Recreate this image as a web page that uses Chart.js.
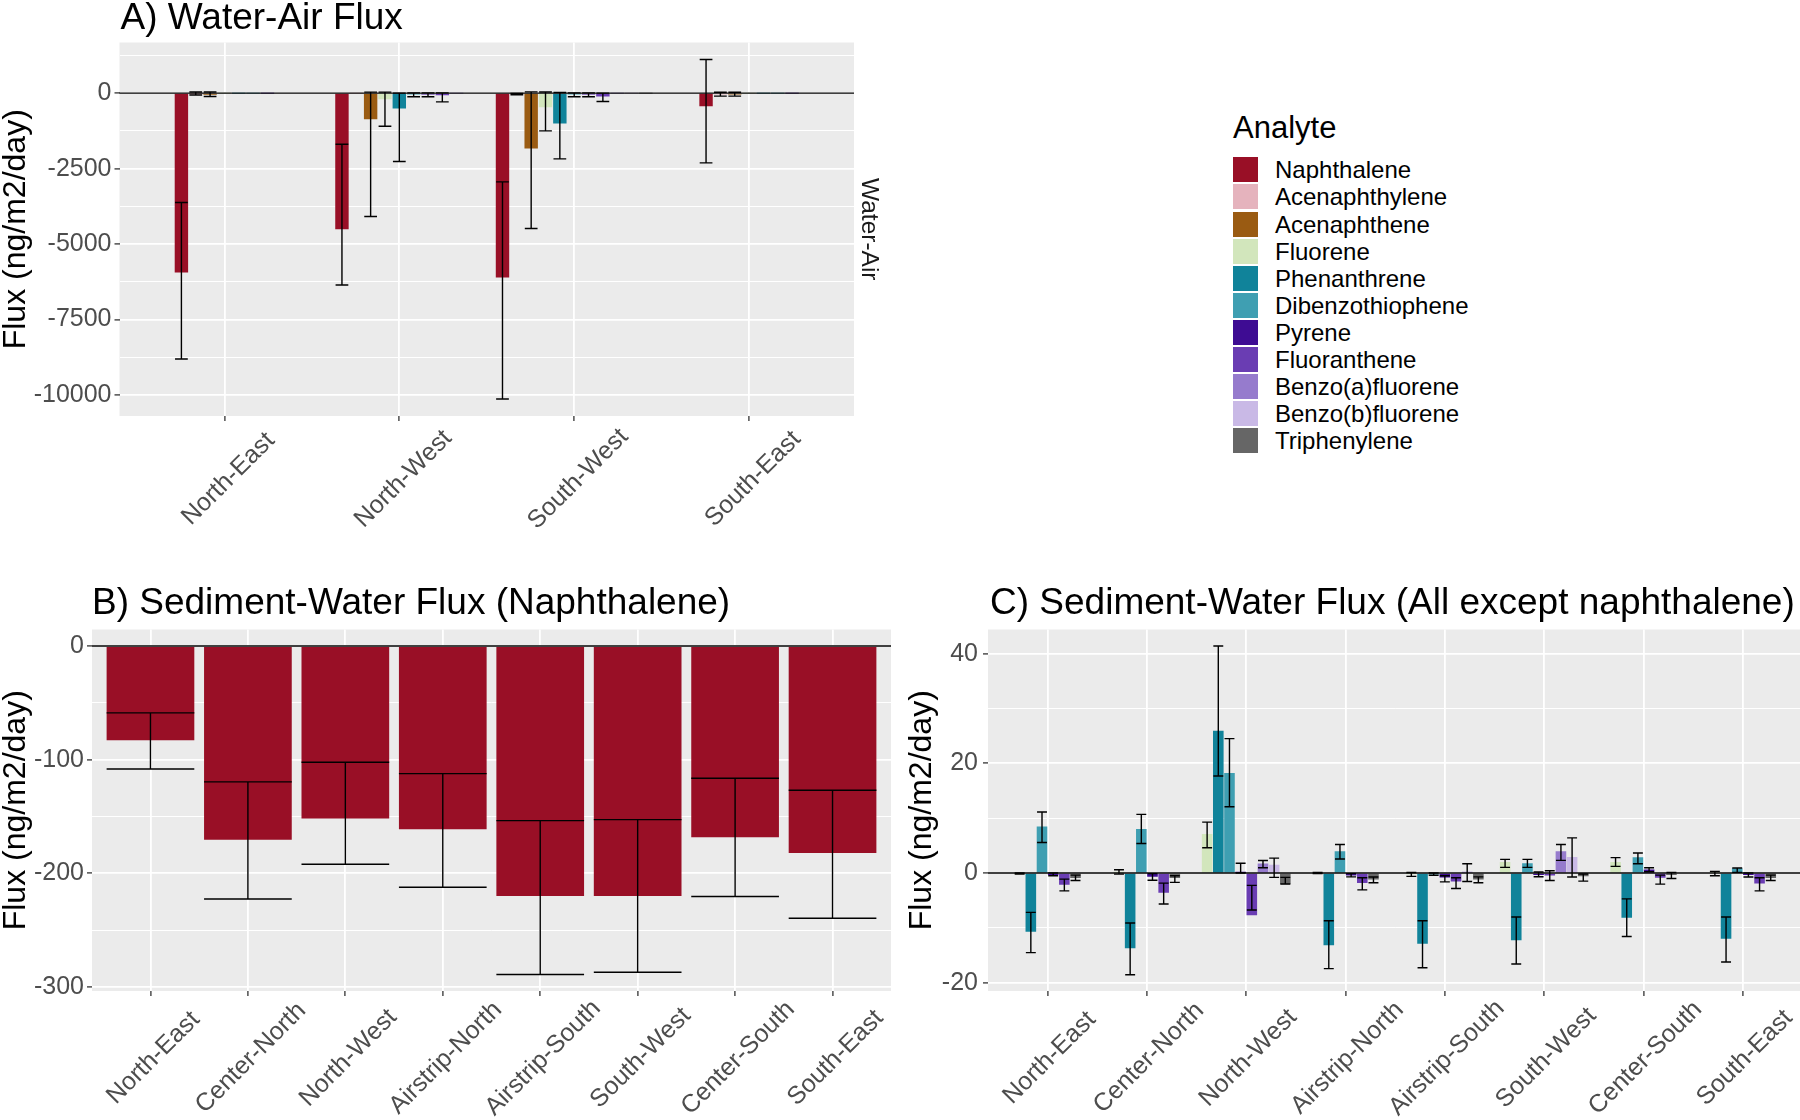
<!DOCTYPE html>
<html>
<head>
<meta charset="utf-8">
<script src="https://cdn.jsdelivr.net/npm/chart.js@4.4.0/dist/chart.umd.min.js"></script>
<style>
  body { margin: 0; width: 1800px; height: 1120px; overflow: hidden; background: #fff; position: relative;
         font-family: 'Liberation Sans', Arial, sans-serif; }
  canvas { position: absolute; }
  #chartA { left: 0; top: 0; }
  #chartB { left: 0; top: 560px; }
  #chartC { left: 900px; top: 560px; }
  #legend { position: absolute; left: 0; top: 0; }
  .lg-title { position: absolute; left: 1233px; top: 112px; font-size: 31px; line-height: 31px; color: #000; white-space: nowrap; }
  .lg-key { position: absolute; left: 1233px; width: 25px; height: 25px; }
  .lg-lab { position: absolute; left: 1275px; font-size: 24px; line-height: 25px; height: 25px; color: #000; white-space: nowrap; }
</style>
</head>
<body>
<canvas id="chartA" width="900" height="540"></canvas>
<canvas id="chartB" width="900" height="560"></canvas>
<canvas id="chartC" width="910" height="560"></canvas>
<div id="legend"></div>
<script>
// analytes and their fill colours (legend order)
const analytes = ['Naphthalene', 'Acenaphthylene', 'Acenaphthene', 'Fluorene', 'Phenanthrene',
  'Dibenzothiophene', 'Pyrene', 'Fluoranthene', 'Benzo(a)fluorene', 'Benzo(b)fluorene', 'Triphenylene'];
const analyteColors = ['#990F26', '#E5B3BD', '#9A5B12', '#D2E6BC', '#10839A',
  '#3F9FB2', '#3E0C93', '#6A3DB3', '#967BCD', '#C9B9E6', '#666666'];

// A) water-air flux, rows = analytes, cols = sites (null = not measured there)
const waSites = ['North-East', 'North-West', 'South-West', 'South-East'];
const waTicks = [-10000, -7500, -5000, -2500, 0];
const waFlux = [
  [-5934, -4497, -6099, -420],
  [-10, 0, -30, -30],
  [-40, -851, -1823, -30],
  [0, -188, -453, 0],
  [0, -497, -994, 0],
  [0, -30, -30, 0],
  [0, -30, -30, 0],
  [null, -60, -100, null],
  [null, 0, 0, null],
  [null, null, 0, null],
  [null, null, 0, null]
];
const waLow = [
  [-8807, -6354, -10133, -2309],
  [-60, null, -55, -100],
  [-110, -4088, -4486, -100],
  [null, -1094, -1249, null],
  [null, -2265, -2177, null],
  [null, -120, -120, null],
  [null, -120, -120, null],
  [null, -290, -275, null],
  [null, null, null, null],
  [null, null, null, null],
  [null, null, null, null]
];
const waHigh = [
  [-3624, -1691, -2939, 1116],
  [40, null, -10, 30],
  [40, 33, 44, 30],
  [null, 33, 40, null],
  [null, 0, 20, null],
  [null, 10, 10, null],
  [null, 10, 10, null],
  [null, 10, 0, null],
  [null, null, null, null],
  [null, null, null, null],
  [null, null, null, null]
];

// B) sediment-water flux of naphthalene
const sedSites = ['North-East', 'Center-North', 'North-West', 'Airstrip-North',
  'Airstrip-South', 'South-West', 'Center-South', 'South-East'];
const sedNaphTicks = [-300, -200, -100, 0];
const sedNaph = [-83, -170.4, -151.9, -161.3, -219.9, -219.9, -168.3, -182.1];
const sedNaphLow = [-108.2, -222.6, -192.1, -212.3, -289.1, -287.1, -220.5, -239.6];
const sedNaphHigh = [-58.9, -119.6, -102.3, -112.3, -153.7, -152.8, -116.4, -127];

// C) sediment-water flux of the other analytes (rows = analytes without naphthalene)
const sedTicks = [-20, 0, 20, 40];
const sedFlux = [
  [null, null, null, null, null, null, null, null],
  [null, null, null, null, null, null, null, null],
  [-0.1, 0.1, 7.04, 0, -0.1, 1.96, 1.96, 0.1],
  [-10.64, -13.64, 25.9, -13.09, -12.84, -12.17, -8.07, -11.93],
  [8.44, 7.95, 18.2, 3.91, -0.2, 1.71, 2.81, 0.8],
  [-0.3, -0.61, 0.05, -0.4, -0.73, -0.3, 0.61, -0.3],
  [-2.08, -3.55, -7.65, -1.77, -1.47, -0.37, -0.8, -1.83],
  [null, null, 1.7, null, 0.2, 3.91, null, null],
  [null, null, 1.46, null, null, 2.87, null, null],
  [-0.86, -0.86, -2.0, -1.1, -1.1, -0.5, -0.3, -0.86]
];
const sedLow = [
  [null, null, null, null, null, null, null, null],
  [null, null, null, null, null, null, null, null],
  [-0.2, -0.2, 4.61, -0.1, -0.6, 1.04, 1.22, -0.5],
  [-14.5, -18.53, 17.7, -17.43, -17.25, -16.57, -11.56, -16.2],
  [5.57, 5.38, 12.1, 2.57, -0.4, 1.04, 1.71, 0.12],
  [-0.5, -1.3, 0, -0.7, -1.6, -0.67, 0.24, -0.73],
  [-3.24, -5.63, -6.74, -3.06, -2.81, -1.35, -2.02, -3.24],
  [null, null, 0.97, null, -1.53, 2.32, null, null],
  [null, null, -0.79, null, null, -0.73, null, null],
  [-1.35, -1.7, -2.0, -1.77, -1.77, -1.47, -1.0, -1.35]
];
const sedHigh = [
  [null, null, null, null, null, null, null, null],
  [null, null, null, null, null, null, null, null],
  [0, 0.6, 9.29, 0.1, 0.1, 2.5, 2.81, 0.3],
  [-7.16, -9.11, 41.4, -8.69, -8.69, -8.01, -4.71, -8.01],
  [11.13, 10.7, 24.5, 5.2, 0, 2.5, 3.67, 0.92],
  [0, -0.1, 1.8, -0.1, -0.5, 0.18, 0.98, 0],
  [-1.1, -1.83, -2.25, -0.86, -0.86, 0.43, -0.37, -0.86],
  [null, null, 2.3, null, 1.71, 5.2, null, null],
  [null, null, 2.73, null, null, 6.42, null, null],
  [-0.37, -0.5, -0.79, -0.73, -0.7, -0.18, 0.1, -0.37]
];

const FONT = "'Liberation Sans', Arial, sans-serif";
Chart.defaults.font.family = FONT;
Chart.defaults.color = '#4D4D4D';

// panel background, zero line, error bars, titles and slanted site labels
const panelDecor = {
  id: 'panelDecor',
  beforeDraw(chart) {
    const { ctx, chartArea: a } = chart;
    ctx.save();
    ctx.fillStyle = '#EBEBEB';
    ctx.fillRect(a.left, a.top, a.right - a.left, a.bottom - a.top);
    ctx.restore();
  },
  afterDatasetsDraw(chart) {
    const { ctx, chartArea: a } = chart;
    const y = chart.scales.y;
    ctx.save();
    const y0 = y.getPixelForValue(0);
    ctx.strokeStyle = '#000';
    ctx.lineWidth = 1.4;
    ctx.beginPath();
    ctx.moveTo(a.left, y0);
    ctx.lineTo(a.right, y0);
    ctx.stroke();
    chart.data.datasets.forEach((ds, di) => {
      if (!ds.errLow) return;
      const meta = chart.getDatasetMeta(di);
      meta.data.forEach((bar, i) => {
        const lo = ds.errLow[i], hi = ds.errHigh[i];
        if (lo == null || hi == null || ds.data[i].y == null) return;
        const yl = y.getPixelForValue(lo), yh = y.getPixelForValue(hi);
        const hw = bar.width / 2;
        ctx.beginPath();
        ctx.moveTo(bar.x, yl); ctx.lineTo(bar.x, yh);
        ctx.moveTo(bar.x - hw, yl); ctx.lineTo(bar.x + hw, yl);
        ctx.moveTo(bar.x - hw, yh); ctx.lineTo(bar.x + hw, yh);
        ctx.stroke();
      });
    });
    ctx.restore();
  },
  afterDraw(chart, args, opts) {
    const { ctx, chartArea: a } = chart;
    const x = chart.scales.x;
    ctx.save();
    ctx.fillStyle = '#000';
    ctx.font = '37px ' + FONT;
    ctx.textAlign = 'left';
    ctx.textBaseline = 'alphabetic';
    ctx.fillText(opts.title, a.left + opts.titleDx, opts.titleY);
    if (opts.strip) {
      ctx.save();
      ctx.translate(a.right + 15, (a.top + a.bottom) / 2);
      ctx.rotate(Math.PI / 2);
      ctx.textAlign = 'center';
      ctx.textBaseline = 'middle';
      ctx.fillStyle = '#1A1A1A';
      ctx.font = '24.5px ' + FONT;
      ctx.fillText(opts.strip, 0, 0);
      ctx.restore();
    }
    ctx.fillStyle = '#4D4D4D';
    ctx.font = '25px ' + FONT;
    ctx.textAlign = 'center';
    ctx.textBaseline = 'middle';
    opts.labels.forEach((lab, i) => {
      ctx.save();
      ctx.translate(x.getPixelForValue(i) + opts.labelDx, a.bottom + opts.labelDy);
      ctx.rotate(-Math.PI / 4);
      ctx.fillText(lab, 0, 0);
      ctx.restore();
    });
    ctx.restore();
  }
};

// y axis: labelled major ticks plus unlabelled minor lines half a step away
function yAxis(min, max, majors, width, titlePad, tickPad) {
  const step = majors[1] - majors[0];
  const isMajor = v => majors.includes(v);
  return {
    type: 'linear', min: min, max: max, bounds: 'data',
    border: { display: false },
    grid: {
      color: '#FFFFFF',
      lineWidth: c => (c.tick && isMajor(c.tick.value)) ? 1.8 : 1,
      tickColor: c => (c.tick && isMajor(c.tick.value)) ? '#333333' : 'rgba(0,0,0,0)',
      tickLength: 5, tickWidth: 1.3
    },
    ticks: {
      autoSkip: false, padding: tickPad,
      color: '#4D4D4D', font: { size: 25 },
      callback: v => isMajor(v) ? String(v) : ''
    },
    afterBuildTicks: s => {
      const vals = majors.slice();
      majors.concat([majors[majors.length - 1] + step]).forEach(v => {
        const m = v - step / 2;
        if (m > min && m < max) vals.push(m);
      });
      s.ticks = vals.sort((p, q) => p - q).map(v => ({ value: v }));
    },
    title: {
      display: true, text: 'Flux (ng/m2/day)', color: '#000',
      font: { size: 32, lineHeight: 1 }, padding: { top: titlePad, bottom: 0 }
    },
    afterFit: s => { s.width = width; }
  };
}

function xAxis(labels, height) {
  return {
    type: 'linear', min: -0.6, max: labels.length - 0.4, bounds: 'data', offset: false,
    border: { display: false },
    grid: { offset: false, color: '#FFFFFF', lineWidth: 1.8, tickColor: '#333333', tickLength: 5, tickWidth: 1.3 },
    ticks: { autoSkip: false, display: false },
    afterBuildTicks: s => { s.ticks = labels.map((lab, i) => ({ value: i })); },
    afterFit: s => { s.height = height; }
  };
}

function baseOptions(padding, scales, decor) {
  return {
    responsive: false, animation: false, events: [],
    layout: { padding: padding },
    plugins: { legend: { display: false }, tooltip: { enabled: false }, panelDecor: decor },
    scales: scales
  };
}

// A
new Chart(document.getElementById('chartA'), {
  type: 'bar',
  data: {
    datasets: analytes.map((name, k) => ({
      label: name,
      data: waFlux[k].map((v, i) => ({ x: i, y: v })),
      backgroundColor: analyteColors[k],
      errLow: waLow[k], errHigh: waHigh[k],
      barThickness: 14.34, maxBarThickness: 12.75, skipNull: true
    }))
  },
  options: baseOptions({ top: 42.5, right: 46, bottom: 0, left: 0 },
    { x: xAxis(waSites, 124), y: yAxis(-10695, 1678, waTicks, 119.5, 0, 3) },
    { title: 'A) Water-Air Flux', titleDx: 1, titleY: 29, strip: 'Water-Air',
      labels: waSites, labelDx: 4, labelDy: 63 }),
  plugins: [panelDecor]
});

// B
new Chart(document.getElementById('chartB'), {
  type: 'bar',
  data: {
    datasets: [{
      label: analytes[0],
      data: sedNaph.map((v, i) => ({ x: i, y: v })),
      backgroundColor: analyteColors[0],
      errLow: sedNaphLow, errHigh: sedNaphHigh,
      categoryPercentage: 0.9, barPercentage: 1
    }]
  },
  options: baseOptions({ top: 69.5, right: 9, bottom: 0, left: 0 },
    { x: xAxis(sedSites, 129), y: yAxis(-303.6, 14.5, sedNaphTicks, 92, 0, 3) },
    { title: 'B) Sediment-Water Flux (Naphthalene)', titleDx: 0, titleY: 54,
      labels: sedSites, labelDx: 3, labelDy: 67 }),
  plugins: [panelDecor]
});

// C
new Chart(document.getElementById('chartC'), {
  type: 'bar',
  data: {
    datasets: analytes.slice(1).map((name, k) => ({
      label: name,
      data: sedFlux[k].map((v, i) => ({ x: i, y: v })),
      backgroundColor: analyteColors[k + 1],
      errLow: sedLow[k], errHigh: sedHigh[k],
      barThickness: 11.17, maxBarThickness: 9.93, skipNull: true
    }))
  },
  options: baseOptions({ top: 69.5, right: 7.6, bottom: 0, left: 0 },
    { x: xAxis(sedSites, 129), y: yAxis(-21.5, 44.4, sedTicks, 88, 6, 5) },
    { title: 'C) Sediment-Water Flux (All except naphthalene)', titleDx: 2, titleY: 54,
      labels: sedSites, labelDx: 2, labelDy: 67 }),
  plugins: [panelDecor]
});

// legend
const legend = document.getElementById('legend');
legend.innerHTML = '<div class="lg-title">Analyte</div>';
analytes.forEach((name, k) => {
  const top = 157.3 + k * 27.1;
  legend.innerHTML += `<div class="lg-key" style="top:${top}px;background:${analyteColors[k]}"></div>` +
    `<div class="lg-lab" style="top:${top}px">${name}</div>`;
});
</script>
</body>
</html>
